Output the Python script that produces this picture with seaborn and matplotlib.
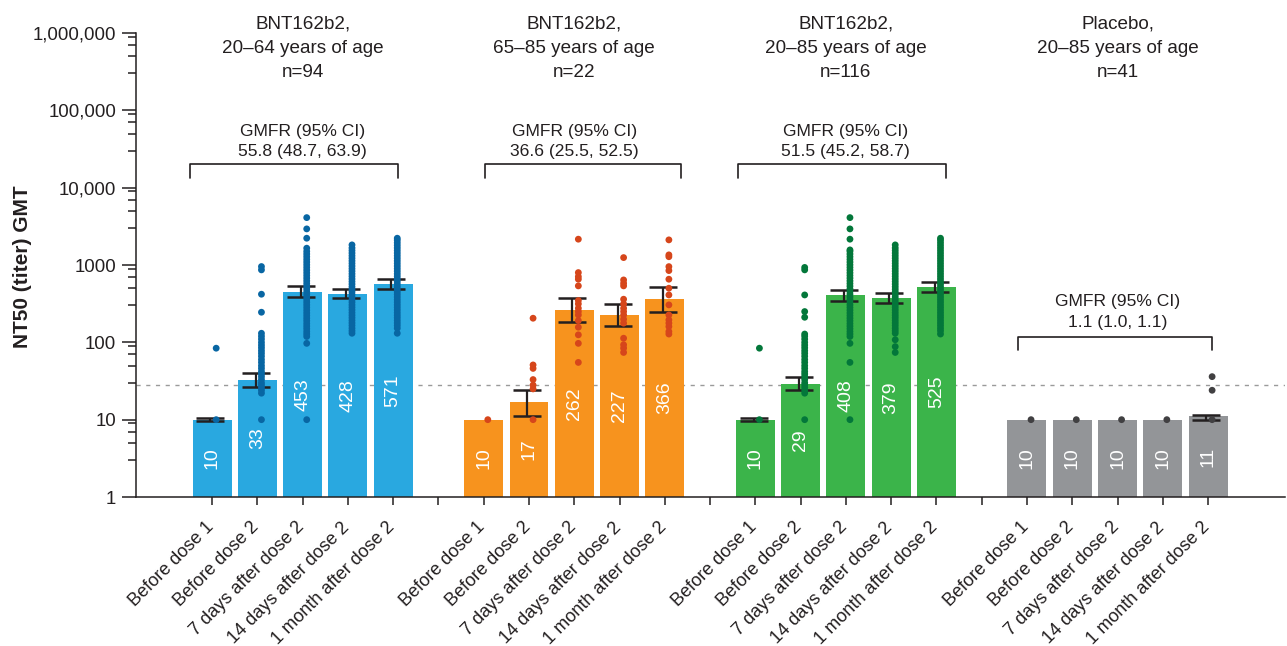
import numpy as np
import pandas as pd
import matplotlib
matplotlib.use("Agg")
import matplotlib.pyplot as plt
import matplotlib.transforms as mtrans
import seaborn as sns

# ---------------- data ----------------
timepoints = ["Before dose 1", "Before dose 2", "7 days after dose 2",
              "14 days after dose 2", "1 month after dose 2"]
group_headers = ["BNT162b2,\n20–64 years of age\nn=94",
                 "BNT162b2,\n65–85 years of age\nn=22",
                 "BNT162b2,\n20–85 years of age\nn=116",
                 "Placebo,\n20–85 years of age\nn=41"]
gmfr_labels = ["GMFR (95% CI)\n55.8 (48.7, 63.9)",
               "GMFR (95% CI)\n36.6 (25.5, 52.5)",
               "GMFR (95% CI)\n51.5 (45.2, 58.7)",
               "GMFR (95% CI)\n1.1 (1.0, 1.1)"]

gmt_g1 = [10, 33, 453, 428, 571]
gmt_g2 = [10, 17, 262, 227, 366]
gmt_g3 = [10, 29, 408, 379, 525]
gmt_g4 = [10, 10, 10, 10, 11]

ci_low_g1 = [9.7, 26.3, 383, 375, 486]
ci_high_g1 = [10.5, 40.5, 537, 491, 661]
ci_low_g2 = [np.nan, 11.3, 185, 164, 250]
ci_high_g2 = [np.nan, 24.2, 372, 314, 526]
ci_low_g3 = [9.7, 24.2, 347, 326, 453]
ci_high_g3 = [10.5, 35.3, 476, 432, 599]
ci_low_g4 = [np.nan, np.nan, np.nan, np.nan, 10.0]
ci_high_g4 = [np.nan, np.nan, np.nan, np.nan, 11.6]

# individual titers (visible dots)
dots_g1 = [
    [10, 84],
    [10, 22, 24, 26, 28, 30, 33, 36, 39, 42, 46, 50, 55, 60, 66, 72, 78, 85, 92,
     100, 110, 120, 131, 245, 419, 865, 955],
    [10, 97, 119, 128, 138, 150, 162, 175, 190, 205, 222, 240, 260, 282, 305, 330,
     357, 387, 419, 454, 491, 532, 576, 624, 676, 732, 793, 859, 930, 1007, 1090,
     1180, 1280, 1386, 1500, 1650, 2220, 2930, 4100],
    [131, 141, 152, 165, 178, 192, 208, 224, 242, 262, 283, 305, 330, 356, 385, 416,
     449, 485, 524, 566, 611, 660, 713, 770, 832, 898, 970, 1048, 1132, 1222, 1320,
     1426, 1540, 1663, 1820],
    [131, 152, 165, 178, 192, 208, 224, 242, 262, 283, 305, 330, 356, 385, 416, 449,
     485, 524, 566, 611, 660, 713, 770, 832, 898, 970, 1048, 1132, 1222, 1320, 1426,
     1540, 1663, 1796, 1940, 2095, 2220],
]
dots_g2 = [
    [10],
    [10, 25, 28, 33, 46, 51, 205],
    [55, 97, 125, 157, 191, 226, 250, 276, 314, 347, 537, 655, 708, 798, 2157],
    [74, 84, 93, 113, 177, 199, 226, 250, 276, 314, 361, 537, 581, 641, 1247],
    [128, 138, 160, 177, 195, 226, 305, 410, 501, 655, 847, 953, 1280, 1352, 2113],
]
dots_g3 = [
    [10, 84],
    [10, 22, 24, 26, 28, 30, 33, 36, 39, 42, 46, 50, 55, 60, 66, 72, 78, 85, 92,
     100, 110, 120, 128, 211, 250, 410, 865, 930],
    [10, 55, 97, 119, 128, 138, 150, 162, 175, 190, 205, 222, 240, 260, 282, 305,
     330, 357, 387, 419, 454, 491, 532, 576, 624, 676, 732, 793, 859, 930, 1007,
     1090, 1180, 1280, 1386, 1500, 1567, 2157, 2930, 4100],
    [74, 88, 108, 131, 141, 152, 165, 178, 192, 208, 224, 242, 262, 283, 305, 330,
     356, 385, 416, 449, 485, 524, 566, 611, 660, 713, 770, 832, 898, 970, 1048,
     1132, 1222, 1320, 1426, 1540, 1663, 1820],
    [128, 141, 152, 165, 178, 192, 208, 224, 242, 262, 283, 305, 330, 356, 385, 416,
     449, 485, 524, 566, 611, 660, 713, 770, 832, 898, 970, 1048, 1132, 1222, 1320,
     1426, 1540, 1663, 1796, 1940, 2095, 2220],
]
dots_g4 = [[10], [10], [10], [10], [10, 24, 36]]

lloq = 28
y_ticks = [1, 10, 100, 1000, 10000, 100000, 1000000]
y_ticklabels = ["1", "10", "100", "1000", "10,000", "100,000", "1,000,000"]

bar_colors = ["#29A8E0", "#F7931E", "#3BB44A", "#939598"]
dot_colors = ["#0866A3", "#D6461B", "#03773A", "#414042"]

# ---------------- frames ----------------
gmts = [gmt_g1, gmt_g2, gmt_g3, gmt_g4]
lows = [ci_low_g1, ci_low_g2, ci_low_g3, ci_low_g4]
highs = [ci_high_g1, ci_high_g2, ci_high_g3, ci_high_g4]
dots = [dots_g1, dots_g2, dots_g3, dots_g4]

rows, drows = [], []
for g in range(4):
    for i in range(5):
        pos = 6 * g + i
        rows.append(dict(pos=pos, gmt=gmts[g][i], lo=lows[g][i], hi=highs[g][i],
                         group=g, label=f"{gmts[g][i]}"))
        for v in dots[g][i]:
            drows.append(dict(pos=pos, titer=v, group=g))
df = pd.DataFrame(rows)
ddf = pd.DataFrame(drows)

# ---------------- plot ----------------
sns.set_style("ticks")
plt.rcParams["font.family"] = ["Liberation Sans", "DejaVu Sans"]
plt.rcParams["axes.linewidth"] = 1.1
plt.rcParams["text.color"] = "#231F20"
plt.rcParams["xtick.color"] = "#231F20"
plt.rcParams["ytick.color"] = "#231F20"

fig = plt.figure(figsize=(12.87, 6.46), dpi=100)
ax = fig.add_axes([135.6 / 1287, 149 / 646, (1285 - 135.6) / 1287, 464 / 646])
ax.set_yscale("log")

ax.axhline(lloq, color="#9A9A9A", lw=1.0, ls=(0, (3, 4)), zorder=0)

sns.barplot(data=df, x="pos", y="gmt", hue="group", palette=bar_colors,
            dodge=False, native_scale=True, width=0.86, errorbar=None,
            saturation=1, linewidth=0, legend=False, ax=ax, zorder=1)

ax.errorbar(df["pos"] - 0.04, df["gmt"],
            yerr=[df["gmt"] - df["lo"], df["hi"] - df["gmt"]],
            fmt="none", ecolor="#231F20", elinewidth=1.6, capsize=10,
            capthick=1.8, zorder=3)

sns.scatterplot(data=ddf.assign(px=ddf["pos"] + 0.09), x="px", y="titer",
                hue="group", palette=dot_colors, s=24, linewidth=0,
                legend=False, ax=ax, zorder=4)

for _, r in df.iterrows():
    ax.text(r["pos"], np.sqrt(r["gmt"]), r["label"], rotation=90, color="white",
            ha="center", va="center", fontsize=14, zorder=5)

# headers, GMFR brackets
bracket_off = [(-0.49, 0.11), (0.03, 0.36), (-0.38, 0.21), (-0.20, 0.09)]
bracket_y = [(20300, 13400), (20300, 13400), (20300, 13400), (118.5, 79.8)]
gmfr_y = [39700, 39700, 39700, 247]
for g in range(4):
    c = 6 * g + 2
    ax.text(c, 10 ** 5.80, group_headers[g], ha="center", va="center",
            fontsize=13.6, linespacing=1.55, clip_on=False)
    x0 = 6 * g + bracket_off[g][0]
    x1 = 6 * g + 4 + bracket_off[g][1]
    top, leg = bracket_y[g]
    ax.plot([x0, x0, x1, x1], [leg, top, top, leg], color="#231F20", lw=1.2,
            clip_on=False, zorder=3)
    ax.text(c, gmfr_y[g], gmfr_labels[g], ha="center", va="center",
            fontsize=12.6, linespacing=1.45)

# axes formatting
ax.set_ylim(1, 1e6)
ax.set_xlim(-1.69, 23.70)
ax.set_yticks(y_ticks)
ax.set_yticklabels(y_ticklabels, fontsize=13.4)
minors = [m * 10 ** e for e in range(6) for m in (3, 5, 7, 9)]
ax.set_yticks(minors, minor=True)
ax.yaxis.set_minor_formatter(matplotlib.ticker.NullFormatter())
ax.tick_params(axis="y", which="major", length=10, width=1.1, pad=4)
ax.tick_params(axis="y", which="minor", length=5.5, width=1.1)

xt = list(range(23))
xl = [timepoints[p % 6] if p % 6 < 5 else "" for p in xt]
ax.set_xticks(xt)
ax.set_xticklabels(xl, rotation=45, ha="right", va="center",
                   rotation_mode="anchor", fontsize=13.1)
ax.tick_params(axis="x", length=6, width=1.1, pad=14)
shift = mtrans.ScaledTranslation(-1 / 100, 0, fig.dpi_scale_trans)
for lab in ax.get_xticklabels():
    lab.set_transform(lab.get_transform() + shift)
ax.set_xlabel("")
ax.set_ylabel("")
for s in ("top", "right"):
    ax.spines[s].set_visible(False)
for s in ("left", "bottom"):
    ax.spines[s].set_color("#231F20")

fig.text(22 / 1287, 1 - 267 / 646, "NT50 (titer) GMT", rotation=90,
         ha="center", va="center", fontsize=15, fontweight="bold")

fig.savefig("out.png", dpi=100)
